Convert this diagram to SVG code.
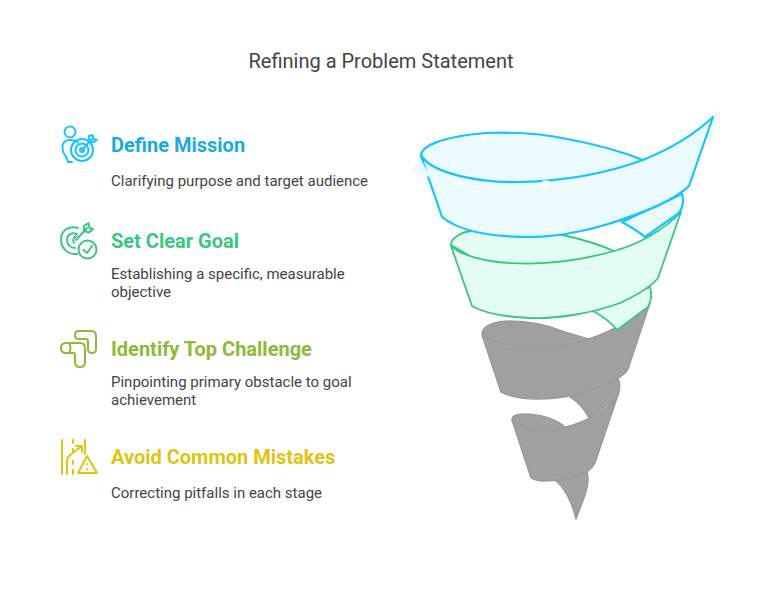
<svg xmlns="http://www.w3.org/2000/svg" width="762" height="590" viewBox="0 0 762 590">
<style>
text{font-family:"Roboto","Liberation Sans",Arial,sans-serif}
.title{font-size:20px;fill:#444;text-anchor:middle}
.h{font-size:20px;font-weight:700}
.d{font-size:15px;fill:#444}
.i{fill:none;stroke-width:2;stroke-linecap:round;stroke-linejoin:round}
.b{fill:#ebfaff;stroke:#1ac3ff;stroke-width:2.200;stroke-linejoin:round}
.g{fill:#e4fdf2;stroke:#3cc583;stroke-width:1.800;stroke-linejoin:round}
.k{fill:#a0a0a0;stroke:#999;stroke-width:1.400;stroke-linejoin:round}
.n{fill:none}
</style>
<rect width="762" height="590" fill="#fff"/>
<text class="title" x="381" y="68">Refining a Problem Statement</text>

<g id="funnel">
<path class="k" d="M570 397C578 402 585 410 589 418L617 398C620 391 621 384 618 378Z"/>
<path class="k" d="M555 480C564 487 572 502 576 519L585 495C588 487 589 479 587 472Z"/>
<path class="k" d="M482 334C482 325 497 321 510 321C530 321 550 326 565 332C574 335 582 337 589 339L560 352L500 345Z"/>
<path class="k" d="M482 335C500 348 550 352 589 339C610 332 634 319 650 303L628 369C626 373 622 376 618 378C595 392 565 399 537 399C522 399 509 396 501 392Z"/>
<path class="k" d="M512 420C512 416 517 414 524 414C540 414 556 419 565 427L540 436Z"/>
<path class="k" d="M512 420C522 432 550 433 565 427C583 423 604 412 617 398L595 463C593 467 590 470 587 472C574 478 556 481 543 481C538 481 534 480 531 478Z"/>
<path class="g" d="M593 311C602 316 611 322 617 330L648 307C651 301 652 293 650 287Z"/>
<path class="g" d="M451 245C451 238 461 232 472 231C500 228 530 229 567 236C585 240 600 245 614 251L560 275L480 262Z"/>
<path class="g" d="M451 246C470 264 540 272 614 251C640 244 665 229 681 212L658 278C651 287 637 295 620 303C590 314 555 319 530 318C505 317 484 313 472 306Z"/>
<path class="b" d="M622 222C631 227 639 232 645 237L679 213C683 207 684 200 682 194Z"/>
<path class="b" d="M421 155C422 146 440 137 486 133C515 132 545 134 567 139C595 144 620 151 643 160L560 205L440 180Z"/>
<path class="b" d="M421 156C434 174 480 183 520 182C570 181 610 172 643 160C670 149 696 133 713 117L689 186C680 195 660 206 640 213C600 229 560 237 530 237C495 237 460 232 442 217Z"/>
<path class="n" stroke="#1ac3ff" stroke-width="1.200" d="M421 153C426 143 450 136 486 133M689 186C670 203 640 213 610 223"/>
<path fill="#ebfaff" d="M411 170L421 160L430 176L426 177Z"/>
<path fill="#ebfaff" d="M712 128L714 135L706 150Z"/>
<path fill="#fff" d="M481 136L482 144L492 137ZM455 181L456 187L466 183ZM543 180L542 190L550 181Z"/>
</g>

<g id="step-1">
<g class="i" stroke="#1ac3ff">
<circle cx="70" cy="132" r="5.500"/>
<path d="M72 162H68C67 158 66 156 65 155C63 153 62.500 150 62.500 146C63 142 66 140 70 140C73 140 76 141 78 142"/>
<circle cx="82" cy="150" r="11"/>
<circle cx="82" cy="150" r="6.500"/>
<circle cx="82" cy="150" r="2"/>
<path d="M82 150L92 139M89 136L89 141.500L94 142L97 140L93.500 139L92.500 135Z"/>
</g>
<text class="h" x="111" y="152" fill="#1aabda">Define Mission</text>
<text class="d" x="111" y="186">Clarifying purpose and target audience</text>
</g>

<g id="step-2">
<g class="i" stroke="#3cc583">
<path d="M78 228C68 225 61 231 61 240C61 248 68 255 77 254"/>
<path d="M77 234C71 232 67 235 67 240C67 245 71 248 75 248"/>
<path d="M74 243C72 240 74 237 76 236M76 240L87 228"/>
<path d="M84 226L84 231L89 232.500L93 229L89.500 228L88.500 223Z"/>
<circle cx="87.500" cy="249.500" r="9"/>
<path d="M83.500 250L87 253L92.500 245.500"/>
</g>
<text class="h" x="111" y="248" fill="#3cc583">Set Clear Goal</text>
<text class="d" x="111" y="279">Establishing a specific, measurable</text>
<text class="d" x="111" y="297">objective</text>
</g>

<g id="step-3">
<g class="i" stroke="#8fb93a">
<path d="M79 331H91Q96 331 96 336V349Q96 353 92 353Q88 353 88 349V341Q88 339 86 339H79Q75 339 75 335Q75 331 79 331Z"/>
<path d="M66 343H80Q85 343 85 348V362Q85 367 80 367Q75 367 75 362V355Q75 353 73 353H66Q61 353 61 348Q61 343 66 343Z"/>
<path d="M69 343Q72 348 69 353"/>
</g>
<text class="h" x="111" y="356" fill="#8fb93a">Identify Top Challenge</text>
<text class="d" x="111" y="387">Pinpointing primary obstacle to goal</text>
<text class="d" x="111" y="405">achievement</text>
</g>

<g id="step-4">
<g class="i" stroke="#dec512">
<path d="M62 440V474M67 474V462C67 458 68 457 70 455L82 446M76 446H82V452M73 440V443M73 449V452M73 461V464M73 470V474M85 440V454"/>
<path d="M87 456L97 473H78Z"/>
<path d="M87 464V464.300M87 469V469.300"/>
</g>
<text class="h" x="111" y="464" fill="#dec512">Avoid Common Mistakes</text>
<text class="d" x="111" y="498">Correcting pitfalls in each stage</text>
</g>
</svg>
